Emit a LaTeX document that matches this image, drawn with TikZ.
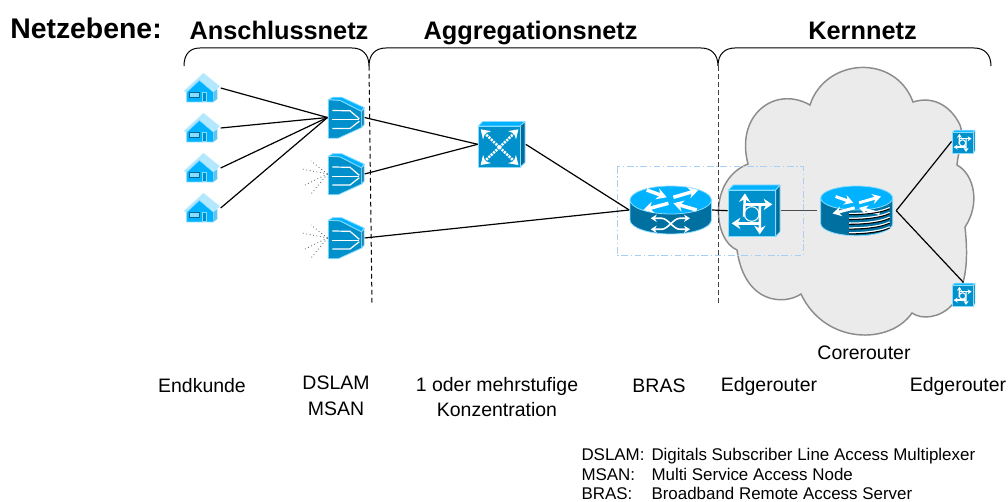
\documentclass[tikz,border=0pt]{standalone}
\usepackage{fontspec}
\setmainfont{Liberation Sans}
\usepackage{tikz}
\usetikzlibrary{arrows.meta}
\definecolor{frontblue}{HTML}{0090CC}
\definecolor{topblue}{HTML}{00B2FF}
\definecolor{sideblue}{HTML}{006C9C}
\definecolor{rimblue}{HTML}{8ADCFF}
\definecolor{roofblue}{HTML}{B4E8FF}
\definecolor{framblue}{HTML}{A8D0F4}
\begin{document}
\begin{tikzpicture}[x = 0.75pt, y = -0.75pt, line width = 0.75pt,
    heading/.style = {font = \bfseries\fontsize{19pt}{22pt}\selectfont, inner sep = 0pt, anchor = base},
    caption/.style = {font = \fontsize{14.6pt}{17.6pt}\selectfont, align = center, inner sep = 0pt},
    legend/.style = {font = \fontsize{12.7pt}{14pt}\selectfont, anchor = base west, inner sep = 0pt},
    slot/.style = {inner sep = 0pt, minimum width = #1*0.75pt},
    link/.style = {black, line width = 0.9pt},
    feed/.style = {black!65, dotted, line width = 0.6pt},
    rim/.style = {draw = rimblue, line width = 0.6pt, line join = round},
    iconarrow/.style = {white, line width = 1.9pt, -{Stealth[length = 6.5pt, width = 8.5pt]}},
    routerarrow/.style = {white, line width = 2.6pt, -{Stealth[length = 7.5pt, width = 8.5pt]}},
    houseicon/.pic = {
      \fill [roofblue] (-18.3,3.3) -- (1.7,-15) -- (18.3,-1.7) -- (12.3,3.3) -- (-2.3,-7.7) -- (-15,4) -- cycle;
      \filldraw [fill = topblue, rim] (-15,4) -- (-2.3,-7.7) -- (11.7,4) -- (11.7,14) -- (-15,14) -- cycle;
      \fill [fill = rimblue!70!frontblue] (11.7,4) -- (15.7,1) -- (15.7,11) -- (11.7,14) -- cycle;
      \filldraw [fill = rimblue, draw = sideblue, line width = 0.6pt] (-12.7,4) rectangle (-2.7,9.3);
      \filldraw [fill = frontblue, rim] (0.7,4) rectangle (5,13.3);
    },
    dslamicon/.pic = {
      \filldraw [fill = topblue, rim] (-17.7,-17.7) -- (-13.3,-20.3) -- (-4.3,-20.3) -- (18,-10) -- (15.7,-6) -- (-6,-17) -- cycle;
      \filldraw [fill = sideblue, rim] (15.7,-6) -- (18,-10) -- (18,7.3) -- (15.7,10) -- cycle;
      \filldraw [fill = frontblue, rim] (-17.7,-17.7) -- (-6,-17) -- (15.7,-6) -- (15.7,10) -- (-7.7,20.7) -- (-17.7,20.7) -- cycle;
      \draw [white, line width = 0.9pt] (-13.7,-7) -- (4,-6.7) -- (13.3,1.3);
      \draw [white, line width = 0.9pt] (-13.7,2.3) -- (13.3,2.3);
      \draw [white, line width = 0.9pt] (-13.7,11) -- (4,11) -- (13.3,3.7);
    },
    crossicon/.pic = {
      \filldraw [fill = topblue, rim] (-23.3,-18.3) -- (-19,-22.7) -- (23.3,-22.7) -- (18.3,-18.3) -- cycle;
      \filldraw [fill = sideblue, rim] (18.3,-18.3) -- (23.3,-22.7) -- (23.3,18.3) -- (18.3,23) -- cycle;
      \filldraw [fill = frontblue, rim] (-23.3,-18.3) rectangle (18.3,23);
      \draw [iconarrow, dash pattern = on 1.6pt off 0.8pt] (-2.3,3) -- (-21,-15);
      \draw [iconarrow, dash pattern = on 1.6pt off 0.8pt] (-2.3,3) -- (16.7,-15);
      \draw [iconarrow, dash pattern = on 1.6pt off 0.8pt] (-2.3,3) -- (-21,20.7);
      \draw [iconarrow, dash pattern = on 1.6pt off 0.8pt] (-2.3,3) -- (16.7,20.7);
    },
    routertop/.pic = {
      \draw [routerarrow] (2.7,-12.7) -- (27.7,-20);
      \draw [routerarrow] (-2.3,-6.7) -- (-27.3,0);
      \draw [routerarrow] (-24,-20) -- (-4,-12.7);
      \draw [routerarrow] (26,0) -- (2.7,-6.7);
    },
    brasicon/.pic = {
      \filldraw [fill = sideblue!90!frontblue, rim] (-40.7,-10) -- (-40.7,10) arc [start angle = 180, end angle = 360, x radius = 40.7, y radius = -14] -- (40.7,-10) -- cycle;
      \filldraw [fill = topblue, rim] (0,-10) ellipse [x radius = 40.7, y radius = 14];
      \pic {routertop};
      \draw [white, line width = 1.2pt, {Stealth[length = 4.5pt, width = 5.5pt]}-{Stealth[length = 4.5pt, width = 5.5pt]}] (-20,8.3) -- (-9,8.3) .. controls (-3,8.3) and (3,19.3) .. (9,19.3) -- (19.3,19.3);
      \draw [white, line width = 1.2pt, {Stealth[length = 4.5pt, width = 5.5pt]}-{Stealth[length = 4.5pt, width = 5.5pt]}] (-20,19.3) -- (-9,19.3) .. controls (-3,19.3) and (3,8.3) .. (9,8.3) -- (19.3,8.3);
    },
    coreicon/.pic = {
      \filldraw [fill = sideblue!90!frontblue, rim] (-36,-12.7) -- (-36,13) arc [start angle = 180, end angle = 360, x radius = 36, y radius = -12] -- (36,-12.7) -- cycle;
      \filldraw [fill = topblue, rim] (0,-12.7) ellipse [x radius = 36, y radius = 12];
      \pic [xscale = 0.88, yscale = 0.85, yshift = -2.5pt, routerarrow/.style = {white, line width = 2.2pt, -{Stealth[length = 6.5pt, width = 7.5pt]}}] {routertop};
      \draw [white, line width = 1.2pt] (-7.7,3) .. controls (10,3) and (25,1) .. (33,-3);
      \draw [white, line width = 1.2pt] (-7.7,7.8) .. controls (10,7.8) and (25,5.8) .. (33,1.8);
      \draw [white, line width = 1.2pt] (-7.7,12.6) .. controls (10,12.6) and (25,10.6) .. (33,6.6);
      \draw [white, line width = 1.2pt] (-7.7,17.4) .. controls (10,17.4) and (25,15.4) .. (33,11.4);
      \draw [white, line width = 1.2pt] (-7.7,22.2) .. controls (10,22.2) and (25,20.2) .. (33,16.2);
      \draw [black, line width = 0.8pt] (-7.7,4) .. controls (10,4) and (25,2) .. (33,-2);
      \draw [black, line width = 0.8pt] (-7.7,8.8) .. controls (10,8.8) and (25,6.8) .. (33,2.8);
      \draw [black, line width = 0.8pt] (-7.7,13.6) .. controls (10,13.6) and (25,11.6) .. (33,7.6);
      \draw [black, line width = 0.8pt] (-7.7,18.4) .. controls (10,18.4) and (25,16.4) .. (33,12.4);
      \draw [black, line width = 0.8pt] (-7.7,23.2) .. controls (10,23.2) and (25,21.2) .. (33,17.2);
    },
    edgeicon/.pic = {
      \filldraw [fill = topblue, rim] (-25.7,-20.7) -- (-20.7,-25.7) -- (26,-25.7) -- (21.7,-20.7) -- cycle;
      \filldraw [fill = sideblue, rim] (21.7,-20.7) -- (26,-25.7) -- (26,21) -- (21.7,26) -- cycle;
      \filldraw [fill = frontblue, rim] (-25.7,-20.7) rectangle (21.7,26);
      \draw [white, line width = 0.8pt] (-2.3,3.3) circle [radius = 7.3];
      \draw [iconarrow] (-10,6) -- (-9,-17.3);
      \draw [iconarrow] (-10,-6.3) -- (18.3,-6.3);
      \draw [iconarrow] (6,-5.7) -- (5.7,23.7);
      \draw [iconarrow] (5,12.7) -- (-22.3,12.7);
    }]
    \useasboundingbox (0, 0) rectangle (1008, 502);

    % Cloud
    \filldraw [fill = black!8, draw = black!45, line width = 1.1pt]
      (810, 105) .. controls (825, 58) and (895, 53) .. (913, 102)
      .. controls (935, 95) and (952, 108) .. (960, 125)
      .. controls (965, 140) and (958, 150) .. (957, 165)
      .. controls (975, 175) and (980, 205) .. (965, 227)
      .. controls (968, 255) and (968, 285) .. (952, 305)
      .. controls (940, 318) and (922, 320) .. (912, 313)
      .. controls (890, 345) and (825, 345) .. (801, 294)
      .. controls (785, 305) and (745, 305) .. (737, 250)
      .. controls (713, 240) and (708, 180) .. (748, 164)
      .. controls (735, 115) and (775, 85) .. (810, 105) -- cycle;

    % Frame of the BRAS
    \draw [framblue, dash pattern = on 5pt off 2pt on 1pt off 2pt] (617, 167) rectangle (803, 256);

    % Braces
    \draw (184, 66) .. controls (184, 54) and (190, 48) .. (200, 48) -- (352, 48)
      .. controls (362, 48) and (369, 54) .. (369, 66) .. controls (369, 54) and (376, 48) .. (386, 48) -- (701, 48)
      .. controls (711, 48) and (718, 54) .. (718, 66) .. controls (718, 54) and (725, 48) .. (735, 48) -- (974, 48)
      .. controls (984, 48) and (991, 54) .. (991, 66);

    % Borders of the levels
    \coordinate (a1) at (369, 66);
    \coordinate (a2) at (372, 305);
    \coordinate (b1) at (718, 66);
    \coordinate (b2) at (718, 305);
    \draw [dashed, dash pattern = on 3.5pt off 2.5pt] (a1) -- (a2);
    \draw [dashed, dash pattern = on 3.5pt off 2.5pt, black!75] (b1) -- (b2);

    \node [slot = 37, minimum height = 22.5pt] (house1) at (201.7, 88) {};
    \node [slot = 37, minimum height = 22.5pt] (house2) at (201.7, 128) {};
    \node [slot = 37, minimum height = 22.5pt] (house3) at (201.7, 168) {};
    \node [slot = 37, minimum height = 22.5pt] (house4) at (201.7, 208) {};
    \node [slot = 36, minimum height = 30pt] (dslam1) at (346, 117.5) {};
    \node [slot = 36, minimum height = 30pt] (dslam2) at (346, 174) {};
    \node [slot = 36, minimum height = 30pt] (dslam3) at (346, 238) {};
    \node [slot = 47, minimum height = 34pt] (cross) at (501.7, 144.3) {};
    \node [slot = 82, minimum height = 36pt] (bras) at (670.7, 210) {};
    \node [slot = 52, minimum height = 39pt] (edge1) at (754, 210.7) {};
    \node [slot = 78, minimum height = 38pt] (core) at (856.7, 210.7) {};
    \node [slot = 23, minimum height = 17.25pt] (edge2) at (963.5, 141.5) {};
    \node [slot = 23, minimum height = 17.25pt] (edge3) at (963.5, 294.5) {};

    \coordinate (fa1) at (311, 161);
    \coordinate (fa2) at (302, 169);
    \coordinate (fa3) at (303, 186);
    \coordinate (fa4) at (311, 194);
    \coordinate (fb1) at (311, 225);
    \coordinate (fb2) at (302, 233);
    \coordinate (fb3) at (303, 250);
    \coordinate (fb4) at (311, 258);

    \draw [link] (house1.east) -- (dslam1.west);
    \draw [link] (house2.east) -- (dslam1.west);
    \draw [link] (house3.east) -- (dslam1.west);
    \draw [link] (house4.east) -- (dslam1.west);
    \draw [feed] (dslam2.west) -- (fa1);
    \draw [feed] (dslam2.west) -- (fa2);
    \draw [feed] (dslam2.west) -- (fa3);
    \draw [feed] (dslam2.west) -- (fa4);
    \draw [feed] (dslam3.west) -- (fb1);
    \draw [feed] (dslam3.west) -- (fb2);
    \draw [feed] (dslam3.west) -- (fb3);
    \draw [feed] (dslam3.west) -- (fb4);
    \draw [link] (dslam1.east) -- (cross.west);
    \draw [link] (dslam2.east) -- (cross.west);
    \draw [link] (dslam3.east) -- (bras.west);
    \draw [link] (cross.east) -- (bras.west);
    \draw [link] (bras.east) -- (edge1.west);
    \draw [link, black!70] (edge1.east) -- (core.west);
    \draw [link] (core.east) -- (edge2.west);
    \draw [link] (core.east) -- (edge3.north);

    \pic at (house1) {houseicon};
    \pic at (house2) {houseicon};
    \pic at (house3) {houseicon};
    \pic at (house4) {houseicon};
    \pic at (dslam1) {dslamicon};
    \pic at (dslam2) {dslamicon};
    \pic at (dslam3) {dslamicon};
    \pic at (cross) {crossicon};
    \pic at (bras) {brasicon};
    \pic at (edge1) {edgeicon};
    \pic at (core) {coreicon};
    \pic [scale = 0.44, iconarrow/.style = {white, line width = 0.9pt, -{Stealth[length = 3pt, width = 3.8pt]}}] at (edge2) {edgeicon};
    \pic [scale = 0.44, iconarrow/.style = {white, line width = 0.9pt, -{Stealth[length = 3pt, width = 3.8pt]}}] at (edge3) {edgeicon};

    \node [heading, font = \bfseries\fontsize{21.3pt}{24pt}\selectfont] (level) at (86, 39) {Netzebene:};
    \node [heading] (access) at (279, 40) {Anschlussnetz};
    \node [heading] (aggregation) at (530.5, 40) {Aggregationsnetz};
    \node [heading] (backbone) at (862.5, 40) {Kernnetz};

    \node [caption] (corelabel) at (864, 353) {Corerouter};
    \node [caption] (customer) at (202, 386) {Endkunde};
    \node [caption] (dslamlabel) at (336, 396) {DSLAM\\[2.2pt]MSAN};
    \node [caption] (stages) at (497, 397) {1 oder mehrstufige\\[1pt]Konzentration};
    \node [caption] (braslabel) at (659, 386) {BRAS};
    \node [caption] (edgelabel1) at (769, 386) {Edgerouter};
    \node [caption] (edgelabel2) at (958, 386) {Edgerouter};

    \node [legend] (key1) at (581, 461) {DSLAM:};
    \node [legend] (key2) at (581, 481) {MSAN:};
    \node [legend] (key3) at (581, 499) {BRAS:};
    \node [legend] (text1) at (651, 461) {Digitals Subscriber Line Access Multiplexer};
    \node [legend] (text2) at (651, 481) {Multi Service Access Node};
    \node [legend] (text3) at (651, 499) {Broadband Remote Access Server};
    \end{tikzpicture}
\end{document}
